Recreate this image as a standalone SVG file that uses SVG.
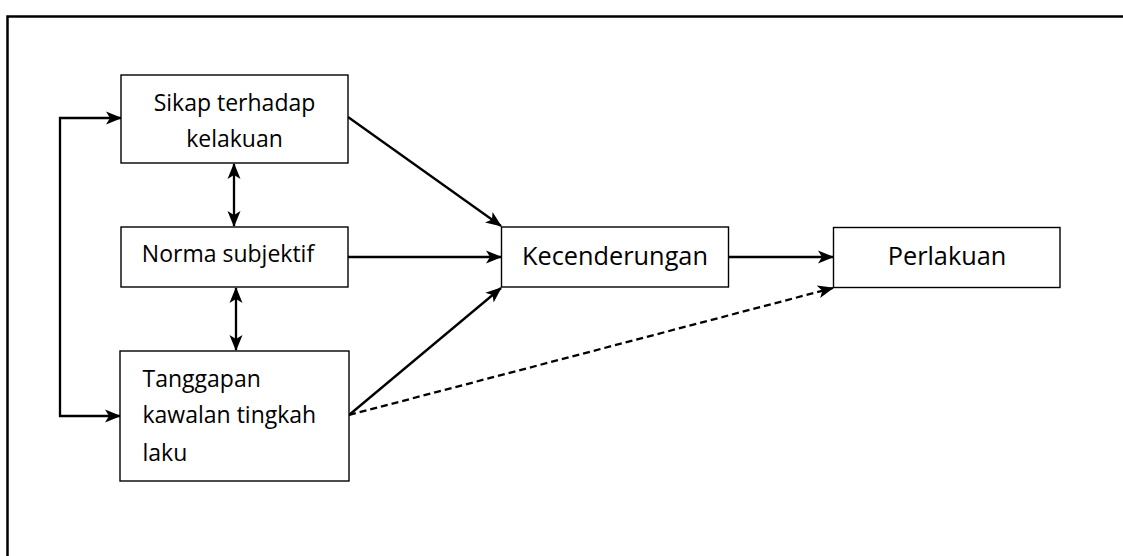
<svg xmlns="http://www.w3.org/2000/svg" width="1123" height="556" viewBox="0 0 1123 556">
<style>
.box{fill:#fff;stroke:#000;stroke-width:1.4}
.t{font-family:"Open Sans","Noto Sans",sans-serif;font-size:23px;fill:#000}
.tl{font-size:25.3px}
.c{fill:none;stroke:#000;stroke-width:2.3}
.d{stroke-dasharray:7 4}
</style>
<defs>
<marker id="ah" markerUnits="userSpaceOnUse" markerWidth="16" markerHeight="14" refX="15" refY="7" orient="auto-start-reverse" viewBox="0 0 16 14">
<path d="M0,0.5 L16,7 L0,13.5 L4,7 z" fill="#000"/>
</marker>
</defs>
<rect width="1123" height="556" fill="#fff"/>
<path d="M7.5,556 V16.5 H1123" fill="none" stroke="#000" stroke-width="2.5"/>
<g id="connectors">
<path class="c" d="M121,118 H60 V416 H120" marker-start="url(#ah)" marker-end="url(#ah)"/>
<line class="c" x1="234" y1="164" x2="234" y2="226" marker-start="url(#ah)" marker-end="url(#ah)"/>
<line class="c" x1="236" y1="288" x2="236" y2="350" marker-start="url(#ah)" marker-end="url(#ah)"/>
<line class="c" x1="348" y1="117" x2="501" y2="226" marker-end="url(#ah)"/>
<line class="c" x1="348" y1="257" x2="501" y2="257" marker-end="url(#ah)"/>
<line class="c" x1="349" y1="415" x2="501" y2="288" marker-end="url(#ah)"/>
<line class="c" x1="728" y1="257" x2="833" y2="257" marker-end="url(#ah)"/>
<line class="c d" x1="349" y1="415" x2="833" y2="288" marker-end="url(#ah)"/>
</g>
<g id="sikap">
<rect class="box" x="121" y="75" width="227" height="88"/>
<text class="t" x="234.5" y="111" text-anchor="middle">Sikap terhadap</text>
<text class="t" x="234.5" y="146.5" text-anchor="middle">kelakuan</text>
</g>
<g id="norma">
<rect class="box" x="121" y="227" width="227" height="60"/>
<text class="t" x="228" y="262" text-anchor="middle">Norma subjektif</text>
</g>
<g id="tanggapan">
<rect class="box" x="120" y="351" width="229" height="130"/>
<text class="t" x="142.5" y="387">Tanggapan</text>
<text class="t" x="142.5" y="423">kawalan tingkah</text>
<text class="t" x="142.5" y="461">laku</text>
</g>
<g id="kecenderungan">
<rect class="box" x="501.5" y="227" width="227" height="60"/>
<text class="t tl" x="615" y="264.5" text-anchor="middle">Kecenderungan</text>
</g>
<g id="perlakuan">
<rect class="box" x="833.5" y="227.5" width="226.5" height="60"/>
<text class="t tl" x="947" y="264.5" text-anchor="middle">Perlakuan</text>
</g>
</svg>
